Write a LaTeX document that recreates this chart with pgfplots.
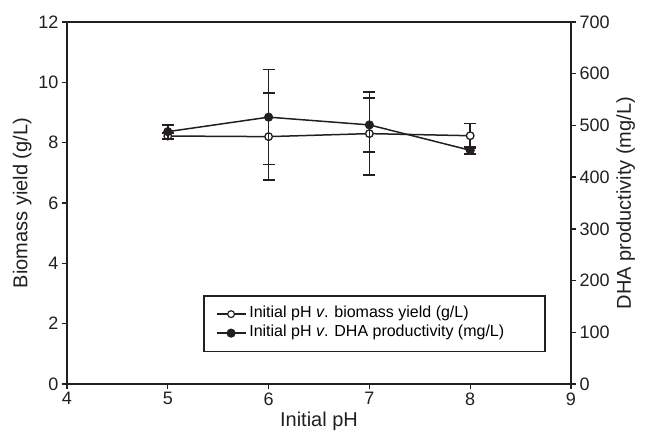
\documentclass[border=0pt]{standalone}
\usepackage{fontspec}
\setmainfont{Liberation Sans}
\usepackage{pgfplots}
\pgfplotsset{compat=1.18}
\definecolor{ink}{RGB}{35,31,32}

\pgfplotsset{
  common/.style={
    scale only axis,
    width=504pt, height=362pt,
    xmin=4, xmax=9,
    /pgf/number format/assume math mode=true,
    tick align=outside,
    major tick length=5pt,
    every tick/.style={ink, line width=1.4pt},
    axis line style={ink, line width=1.8pt},
    tick label style={font=\fontsize{18}{21}\selectfont, text=ink},
    label style={font=\fontsize{20}{23}\selectfont, text=ink},
  },
  ebar/.style={
    error bars/.cd, y dir=both, y explicit,
    error bar style={ink, solid, line width=1.5pt},
    error mark options={ink, solid, line width=1.5pt, mark size=6pt, rotate=90},
  },
  longleg/.style={
    legend image code/.code={
      \draw[mark repeat=2, mark phase=2, ##1]
        plot coordinates {(0pt,0pt) (14.5pt,0pt) (29pt,0pt)};}},
}

\begin{document}
\begin{tikzpicture}
\begin{axis}[common,
  name=main,
  ymin=0, ymax=12,
  ytick={0,2,...,12},
  xtick={4,...,9},
  ytick pos=left, xtick pos=bottom,
  xlabel={Initial pH},
  ylabel={Biomass yield (g/L)},
]
\addplot[ink, line width=1.5pt, mark=*, mark size=3.8pt,
  mark options={fill=white, draw=ink, line width=1.3pt}, ebar]
  coordinates {
    (5, 8.22) +- (0, 0.10)
    (6, 8.20) +- (0, 1.44)
    (7, 8.30) +- (0, 1.38)
    (8, 8.23) +- (0, 0.41)
  };
\end{axis}
\begin{axis}[common,
  ymin=0, ymax=700,
  ytick={0,100,...,700},
  hide x axis,
  axis y line*=right,
  ylabel={DHA productivity (mg/L)},
  legend style={at={(0.27,0.088)}, anchor=south west,
    draw=ink, line width=1.5pt, font=\fontsize{16}{19}\selectfont,
    inner xsep=12pt, inner ysep=9pt, row sep=0.5pt,
    nodes={inner xsep=3pt, inner ysep=2pt, text height=11pt, text depth=3.5pt},
    cells={anchor=west}},
  legend cell align=left,
]
\addlegendimage{ink, line width=1.4pt, mark=*, mark size=3.4pt,
  mark options={fill=white, draw=ink, line width=1.2pt}, longleg}
\addlegendentry{Initial pH \textit{v}. biomass yield (g/L)}
\addplot[ink, line width=1.5pt, mark=*, mark size=3.8pt,
  mark options={fill=ink, draw=ink}, longleg, ebar]
  coordinates {
    (5, 488) +- (0, 13)
    (6, 516) +- (0, 92)
    (7, 501) +- (0, 52)
    (8, 452) +- (0, 7)
  };
\addlegendentry{Initial pH \textit{v}. DHA productivity (mg/L)\kern26pt}
\end{axis}
\path (main.south west) ++(-67pt,-60pt);
\path (main.north east) ++(77pt,22pt);
\end{tikzpicture}
\end{document}
